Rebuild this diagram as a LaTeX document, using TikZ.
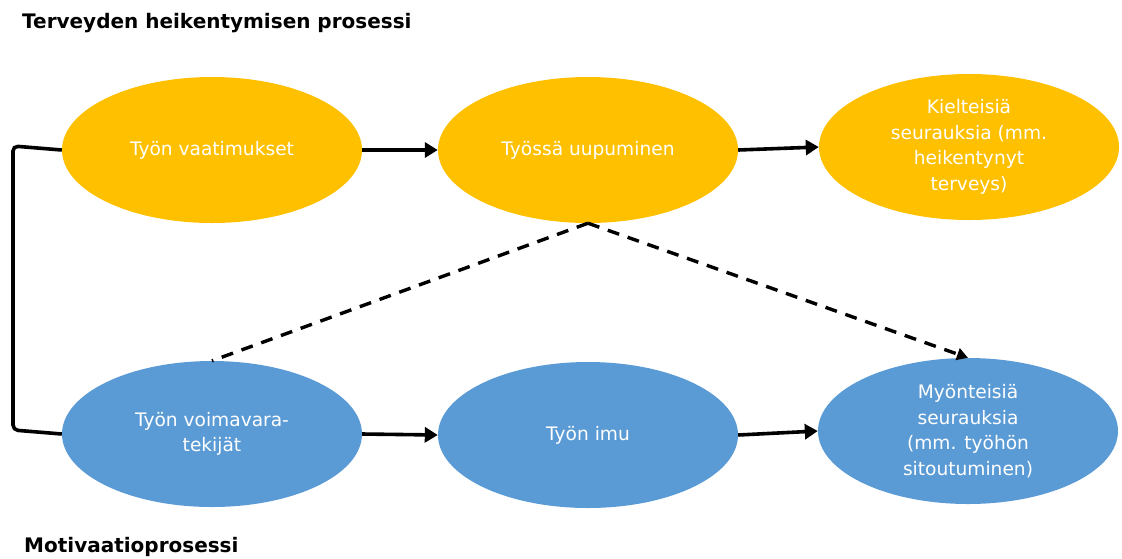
\documentclass[tikz,border=0pt]{standalone}
\usepackage{fontspec}
\setmainfont{DejaVu Sans}
\usetikzlibrary{shapes.geometric,arrows.meta}
\definecolor{demand}{HTML}{FFC000}
\definecolor{resource}{HTML}{5B9BD5}
\begin{document}
\begin{tikzpicture}[x=1pt,y=-1pt,
  oval/.style={ellipse, minimum width=300pt, minimum height=146pt, inner sep=0pt,
    text=white, align=center, font=\fontsize{18.6}{25.5}\selectfont},
  flow/.style={line width=3.6pt, -{Triangle[length=13pt,width=15pt]}},
  link/.style={line width=3.4pt, dash pattern=on 12pt off 9pt},
  heading/.style={anchor=west, inner sep=0pt, font=\fontsize{20}{24}\selectfont\bfseries}]
\useasboundingbox (0,0) rectangle (1122,558);
% upper process
\node[oval, fill=demand] (a) at (212,150) {Työn vaatimukset};
\node[oval, fill=demand] (b) at (588,150) {Työssä uupuminen};
\node[oval, fill=demand] (c) at (969,147) {Kielteisiä\\seurauksia (mm.\\heikentynyt\\terveys)};
% lower process
\node[oval, fill=resource] (d) at (212,434) {Työn voimavara-\\tekijät};
\node[oval, fill=resource] (e) at (588,435) {Työn imu};
\node[oval, fill=resource] (f) at (968,431) {Myönteisiä\\seurauksia\\(mm. työhön\\sitoutuminen)};
% headings
\node[heading] (t1) at (22,23) {Terveyden heikentymisen prosessi};
\node[heading] (t2) at (24,547) {Motivaatioprosessi};
% main arrows
\draw[flow] (a.east) -- (b.west);
\draw[flow] (b.east) -- (c.west);
\draw[flow] (d.east) -- (e.west);
\draw[flow] (e.east) -- (f.west);
% cross links
\draw[link] (b.south) -- (d.north);
\draw[link, -{Triangle[length=11pt,width=12pt]}] (b.south) -- (f.north);
% bracket joining both processes
\coordinate (bt) at (13,146);
\coordinate (bb) at (13,430);
\draw[line width=3.6pt, rounded corners=5pt] (a.west) -- (bt) -- (bb) -- (d.west);
\end{tikzpicture}
\end{document}
